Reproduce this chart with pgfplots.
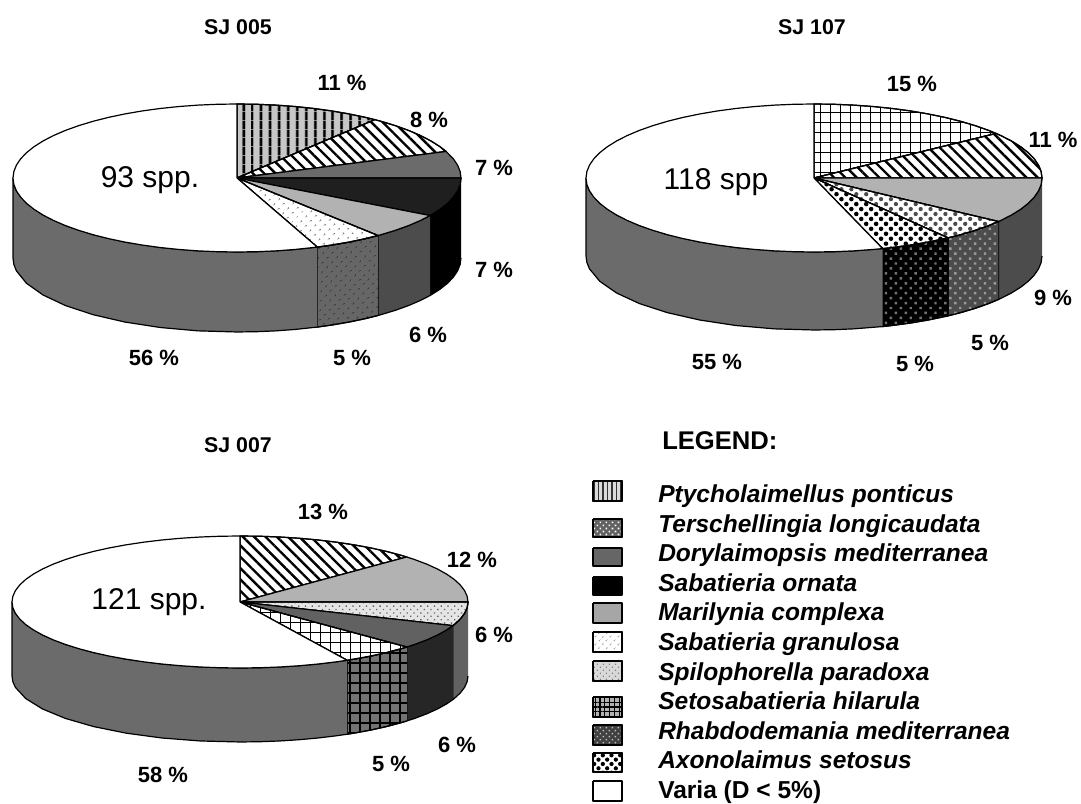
\documentclass[border=0pt]{standalone}
\usepackage{pgfplots}
\pgfplotsset{compat=1.18}
\usepackage{fontspec}
\setmainfont{Liberation Sans}
\usetikzlibrary{patterns.meta}
\tikzset{
 sVert/.style={preaction={fill=black!22},pattern={Lines[angle=90,distance=6.9pt,line width=2.2pt]},pattern color=black},
 sNW/.style={preaction={fill=white},pattern={Lines[angle=-45,distance=6pt,line width=1.8pt]},pattern color=black},
 sGrid/.style={preaction={fill=white},pattern={Hatch[angle=0,distance=7.5pt,line width=.75pt]},pattern color=black},
 sGridD/.style={preaction={fill=black!55},pattern={Hatch[angle=0,distance=7.5pt,line width=.9pt]},pattern color=black},
 sDotW/.style={preaction={fill=white},pattern={Dots[angle=45,distance=5.4pt,radius=.7pt]},pattern color=black!85},
 sDotG/.style={preaction={fill=black!60},pattern={Dots[angle=45,distance=5.4pt,radius=.7pt]},pattern color=black!90},
 sFine/.style={preaction={fill=black!10},pattern={Dots[angle=45,distance=3.6pt,radius=.7pt]},pattern color=black!60},
 sChkW/.style={preaction={fill=white},pattern={Dots[angle=45,distance=5.25pt,radius=1.6pt]},pattern color=black!70},
 sChkG/.style={preaction={fill=black!70},pattern={Dots[angle=45,distance=5.25pt,radius=1.3pt]},pattern color=black!40},
 sChkB/.style={preaction={fill=white},pattern={Dots[angle=45,distance=5.25pt,radius=1.7pt]},pattern color=black},
 sChkK/.style={preaction={fill=black},pattern={Dots[angle=45,distance=5.25pt,radius=1.3pt]},pattern color=black!55},
 lVert/.style={preaction={fill=black!15},pattern={Lines[angle=90,distance=3.4pt,line width=1.2pt]},pattern color=black!80},
 lTer/.style={preaction={fill=black!62},pattern={Dots[angle=45,distance=3.2pt,radius=.85pt]},pattern color=white},
 lGran/.style={preaction={fill=white},pattern={Dots[angle=45,distance=4pt,radius=.6pt]},pattern color=black!50},
 lSpi/.style={preaction={fill=black!15},pattern={Dots[angle=45,distance=3.2pt,radius=.6pt]},pattern color=black!50},
 lSet/.style={preaction={fill=black!30},pattern={Hatch[angle=0,distance=3.6pt,line width=.8pt]},pattern color=black},
 lRha/.style={preaction={fill=black!75},pattern={Dots[angle=45,distance=3.2pt,radius=.8pt]},pattern color=black!25},
 lAxo/.style={preaction={fill=white},pattern={Dots[angle=45,distance=4.6pt,radius=1.6pt]},pattern color=black},
}
\pgfplotsset{
 pie/.style={scale only axis,hide axis,clip=false,xmin=-1,xmax=1,ymin=-1,ymax=1,anchor=center,no markers},
 every axis plot/.append style={draw=black,line width=.9pt,line join=round},
}
\newcommand\wall[3]{\addplot[#1] table[x=x,y expr={\thisrow{s}-#2*\thisrow{z}},row sep=\\]{x s z\\#3};}
\begin{document}
\begin{tikzpicture}
\path[use as bounding box] (0,0) rectangle (810.75pt,602.25pt);
% ---------- SJ 005
\begin{axis}[pie,at={(177.75pt,468.75pt)},width=336pt,height=111pt]
\wall{fill=black}{1.081}{1 0 0\\.9962 -.0872 0\\.9848 -.1736 0\\.9659 -.2588 0\\.9397 -.3420 0\\.9063 -.4226 0\\.8660 -.5 0\\.8616 -.5075 0\\.8616 -.5075 1\\.8660 -.5 1\\.9063 -.4226 1\\.9397 -.3420 1\\.9659 -.2588 1\\.9848 -.1736 1\\.9962 -.0872 1\\1 0 1\\}
\wall{fill=black!70}{1.081}{.8616 -.5075 0\\.8192 -.5736 0\\.7660 -.6428 0\\.7071 -.7071 0\\.6428 -.7660 0\\.6293 -.7771 0\\.6293 -.7771 1\\.6428 -.7660 1\\.7071 -.7071 1\\.7660 -.6428 1\\.8192 -.5736 1\\.8616 -.5075 1\\}
\wall{sDotG}{1.081}{.6293 -.7771 0\\.5736 -.8192 0\\.5 -.8660 0\\.4226 -.9063 0\\.3584 -.9336 0\\.3584 -.9336 1\\.4226 -.9063 1\\.5 -.8660 1\\.5736 -.8192 1\\.6293 -.7771 1\\}
\wall{fill=black!58}{1.081}{.3584 -.9336 0\\.2588 -.9659 0\\.1736 -.9848 0\\.0872 -.9962 0\\0 -1 0\\-.1736 -.9848 0\\-.3420 -.9397 0\\-.5 -.8660 0\\-.6428 -.7660 0\\-.7660 -.6428 0\\-.8660 -.5 0\\-.9397 -.3420 0\\-.9848 -.1736 0\\-.9962 -.0872 0\\-1 0 0\\-1 0 1\\-.9962 -.0872 1\\-.9848 -.1736 1\\-.9397 -.3420 1\\-.8660 -.5 1\\-.7660 -.6428 1\\-.6428 -.7660 1\\-.5 -.8660 1\\-.3420 -.9397 1\\-.1736 -.9848 1\\0 -1 1\\.0872 -.9962 1\\.1736 -.9848 1\\.2588 -.9659 1\\.3584 -.9336 1\\}
\addplot[sVert] coordinates {(0,0)(0,1)(.0872,.9962)(.1736,.9848)(.2588,.9659)(.3420,.9397)(.4226,.9063)(.5,.8660)(.5736,.8192)(.6157,.7880)(0,0)};
\addplot[sNW] coordinates {(0,0)(.6157,.7880)(.6428,.7660)(.7071,.7071)(.7660,.6428)(.8192,.5736)(.8660,.5)(.9063,.4226)(.9336,.3584)(0,0)};
\addplot[fill=black!58] coordinates {(0,0)(.9336,.3584)(.9659,.2588)(.9848,.1736)(.9962,.0872)(1,0)(0,0)};
\addplot[fill=black!88] coordinates {(0,0)(1,0)(.9962,-.0872)(.9848,-.1736)(.9659,-.2588)(.9397,-.3420)(.9063,-.4226)(.8660,-.5)(.8616,-.5075)(0,0)};
\addplot[fill=black!30] coordinates {(0,0)(.8616,-.5075)(.8192,-.5736)(.7660,-.6428)(.7071,-.7071)(.6428,-.7660)(.6293,-.7771)(0,0)};
\addplot[sDotW] coordinates {(0,0)(.6293,-.7771)(.5736,-.8192)(.5,-.8660)(.4226,-.9063)(.3584,-.9336)(0,0)};
\addplot[fill=white] coordinates {(0,0)(.3584,-.9336)(.2588,-.9659)(.1736,-.9848)(.0872,-.9962)(0,-1)(-.0872,-.9962)(-.1736,-.9848)(-.2588,-.9659)(-.3420,-.9397)(-.4226,-.9063)(-.5,-.8660)(-.5736,-.8192)(-.6428,-.7660)(-.7071,-.7071)(-.7660,-.6428)(-.8192,-.5736)(-.8660,-.5)(-.9063,-.4226)(-.9397,-.3420)(-.9659,-.2588)(-.9848,-.1736)(-.9962,-.0872)(-1,0)(-.9962,.0872)(-.9848,.1736)(-.9659,.2588)(-.9397,.3420)(-.9063,.4226)(-.8660,.5)(-.8192,.5736)(-.7660,.6428)(-.7071,.7071)(-.6428,.7660)(-.5736,.8192)(-.5,.8660)(-.4226,.9063)(-.3420,.9397)(-.2588,.9659)(-.1736,.9848)(-.0872,.9962)(0,1)(0,0)};
\end{axis}
% ---------- SJ 107
\begin{axis}[pie,at={(610.5pt,468.75pt)},width=342pt,height=111pt]
\wall{fill=black!70}{1.054}{1 0 0\\.9962 -.0872 0\\.9848 -.1736 0\\.9659 -.2588 0\\.9397 -.3420 0\\.9063 -.4226 0\\.8660 -.5 0\\.8192 -.5736 0\\.8090 -.5878 0\\.8090 -.5878 1\\.8192 -.5736 1\\.8660 -.5 1\\.9063 -.4226 1\\.9397 -.3420 1\\.9659 -.2588 1\\.9848 -.1736 1\\.9962 -.0872 1\\1 0 1\\}
\wall{sChkG}{1.054}{.8090 -.5878 0\\.7660 -.6428 0\\.7071 -.7071 0\\.6428 -.7660 0\\.5878 -.8090 0\\.5878 -.8090 1\\.6428 -.7660 1\\.7071 -.7071 1\\.7660 -.6428 1\\.8090 -.5878 1\\}
\wall{sChkK}{1.054}{.5878 -.8090 0\\.5 -.8660 0\\.4226 -.9063 0\\.3420 -.9397 0\\.3007 -.9537 0\\.3007 -.9537 1\\.3420 -.9397 1\\.4226 -.9063 1\\.5 -.8660 1\\.5878 -.8090 1\\}
\wall{fill=black!58}{1.054}{.3007 -.9537 0\\.1736 -.9848 0\\.0872 -.9962 0\\0 -1 0\\-.1736 -.9848 0\\-.3420 -.9397 0\\-.5 -.8660 0\\-.6428 -.7660 0\\-.7660 -.6428 0\\-.8660 -.5 0\\-.9397 -.3420 0\\-.9848 -.1736 0\\-.9962 -.0872 0\\-1 0 0\\-1 0 1\\-.9962 -.0872 1\\-.9848 -.1736 1\\-.9397 -.3420 1\\-.8660 -.5 1\\-.7660 -.6428 1\\-.6428 -.7660 1\\-.5 -.8660 1\\-.3420 -.9397 1\\-.1736 -.9848 1\\0 -1 1\\.0872 -.9962 1\\.1736 -.9848 1\\.3007 -.9537 1\\}
\addplot[sGrid] coordinates {(0,0)(0,1)(.0872,.9962)(.1736,.9848)(.2588,.9659)(.3420,.9397)(.4226,.9063)(.5,.8660)(.5736,.8192)(.6428,.7660)(.7071,.7071)(.7660,.6428)(.7986,.6018)(0,0)};
\addplot[sNW] coordinates {(0,0)(.7986,.6018)(.8192,.5736)(.8660,.5)(.9063,.4226)(.9397,.3420)(.9659,.2588)(.9848,.1736)(.9962,.0872)(1,0)(0,0)};
\addplot[fill=black!30] coordinates {(0,0)(1,0)(.9962,-.0872)(.9848,-.1736)(.9659,-.2588)(.9397,-.3420)(.9063,-.4226)(.8660,-.5)(.8192,-.5736)(.8090,-.5878)(0,0)};
\addplot[sChkW] coordinates {(0,0)(.8090,-.5878)(.7660,-.6428)(.7071,-.7071)(.6428,-.7660)(.5878,-.8090)(0,0)};
\addplot[sChkB] coordinates {(0,0)(.5878,-.8090)(.5 ,-.8660)(.4226,-.9063)(.3420,-.9397)(.3007,-.9537)(0,0)};
\addplot[fill=white] coordinates {(0,0)(.3007,-.9537)(.2588,-.9659)(.1736,-.9848)(.0872,-.9962)(0,-1)(-.0872,-.9962)(-.1736,-.9848)(-.2588,-.9659)(-.3420,-.9397)(-.4226,-.9063)(-.5,-.8660)(-.5736,-.8192)(-.6428,-.7660)(-.7071,-.7071)(-.7660,-.6428)(-.8192,-.5736)(-.8660,-.5)(-.9063,-.4226)(-.9397,-.3420)(-.9659,-.2588)(-.9848,-.1736)(-.9962,-.0872)(-1,0)(-.9962,.0872)(-.9848,.1736)(-.9659,.2588)(-.9397,.3420)(-.9063,.4226)(-.8660,.5)(-.8192,.5736)(-.7660,.6428)(-.7071,.7071)(-.6428,.7660)(-.5736,.8192)(-.5,.8660)(-.4226,.9063)(-.3420,.9397)(-.2588,.9659)(-.1736,.9848)(-.0872,.9962)(0,1)(0,0)};
\end{axis}
% ---------- SJ 007
\begin{axis}[pie,at={(180pt,150.75pt)},width=342pt,height=99pt]
\wall{fill=black!62}{1.121}{1 0 0\\.9962 -.0872 0\\.9848 -.1736 0\\.9659 -.2588 0\\.9397 -.3420 0\\.9336 -.3584 0\\.9336 -.3584 1\\.9397 -.3420 1\\.9659 -.2588 1\\.9848 -.1736 1\\.9962 -.0872 1\\1 0 1\\}
\wall{fill=black!85}{1.121}{.9336 -.3584 0\\.9063 -.4226 0\\.8660 -.5 0\\.8192 -.5736 0\\.7660 -.6428 0\\.7314 -.6820 0\\.7314 -.6820 1\\.7660 -.6428 1\\.8192 -.5736 1\\.8660 -.5 1\\.9063 -.4226 1\\.9336 -.3584 1\\}
\wall{sGridD}{1.121}{.7314 -.6820 0\\.7071 -.7071 0\\.6428 -.7660 0\\.5736 -.8192 0\\.5 -.8660 0\\.4695 -.8829 0\\.4695 -.8829 1\\.5 -.8660 1\\.5736 -.8192 1\\.6428 -.7660 1\\.7071 -.7071 1\\.7314 -.6820 1\\}
\wall{fill=black!58}{1.121}{.4695 -.8829 0\\.4226 -.9063 0\\.3420 -.9397 0\\.2588 -.9659 0\\.1736 -.9848 0\\.0872 -.9962 0\\0 -1 0\\-.1736 -.9848 0\\-.3420 -.9397 0\\-.5 -.8660 0\\-.6428 -.7660 0\\-.7660 -.6428 0\\-.8660 -.5 0\\-.9397 -.3420 0\\-.9848 -.1736 0\\-.9962 -.0872 0\\-1 0 0\\-1 0 1\\-.9962 -.0872 1\\-.9848 -.1736 1\\-.9397 -.3420 1\\-.8660 -.5 1\\-.7660 -.6428 1\\-.6428 -.7660 1\\-.5 -.8660 1\\-.3420 -.9397 1\\-.1736 -.9848 1\\0 -1 1\\.0872 -.9962 1\\.1736 -.9848 1\\.2588 -.9659 1\\.3420 -.9397 1\\.4226 -.9063 1\\.4695 -.8829 1\\}
\addplot[sNW] coordinates {(0,0)(0,1)(.0872,.9962)(.1736,.9848)(.2588,.9659)(.3420,.9397)(.4226,.9063)(.5,.8660)(.5736,.8192)(.6428,.7660)(.7071,.7071)(.7314,.6820)(0,0)};
\addplot[fill=black!30] coordinates {(0,0)(.7314,.6820)(.7660,.6428)(.8192,.5736)(.8660,.5)(.9063,.4226)(.9397,.3420)(.9659,.2588)(.9848,.1736)(.9962,.0872)(1,0)(0,0)};
\addplot[sFine] coordinates {(0,0)(1,0)(.9962,-.0872)(.9848,-.1736)(.9659,-.2588)(.9397,-.3420)(.9336,-.3584)(0,0)};
\addplot[fill=black!62] coordinates {(0,0)(.9336,-.3584)(.9063,-.4226)(.8660,-.5)(.8192,-.5736)(.7660,-.6428)(.7314,-.6820)(0,0)};
\addplot[sGrid] coordinates {(0,0)(.7314,-.6820)(.7071,-.7071)(.6428,-.7660)(.5736,-.8192)(.5,-.8660)(.4695,-.8829)(0,0)};
\addplot[fill=white] coordinates {(0,0)(.4695,-.8829)(.4226,-.9063)(.3420,-.9397)(.2588,-.9659)(.1736,-.9848)(.0872,-.9962)(0,-1)(-.0872,-.9962)(-.1736,-.9848)(-.2588,-.9659)(-.3420,-.9397)(-.4226,-.9063)(-.5,-.8660)(-.5736,-.8192)(-.6428,-.7660)(-.7071,-.7071)(-.7660,-.6428)(-.8192,-.5736)(-.8660,-.5)(-.9063,-.4226)(-.9397,-.3420)(-.9659,-.2588)(-.9848,-.1736)(-.9962,-.0872)(-1,0)(-.9962,.0872)(-.9848,.1736)(-.9659,.2588)(-.9397,.3420)(-.9063,.4226)(-.8660,.5)(-.8192,.5736)(-.7660,.6428)(-.7071,.7071)(-.6428,.7660)(-.5736,.8192)(-.5,.8660)(-.4226,.9063)(-.3420,.9397)(-.2588,.9659)(-.1736,.9848)(-.0872,.9962)(0,1)(0,0)};
\end{axis}
% ---------- labels and legend, in pixel coordinates
\begin{axis}[scale only axis,hide axis,clip=false,at={(0pt,0pt)},anchor=south west,width=810.75pt,height=602.25pt,xmin=0,xmax=1081,ymin=0,ymax=803,y dir=reverse,no markers,
 every axis plot/.append style={line width=1.1pt}]
\addplot[lVert] coordinates {(593,481)(622,481)(622,501)(593,501)(593,481)};
\addplot[lTer] coordinates {(593,519)(622,519)(622,537)(593,537)(593,519)};
\addplot[fill=black!60] coordinates {(593,548)(622,548)(622,566)(593,566)(593,548)};
\addplot[fill=black] coordinates {(593,577)(622,577)(622,595)(593,595)(593,577)};
\addplot[fill=black!35] coordinates {(593,603)(622,603)(622,623)(593,623)(593,603)};
\addplot[lGran] coordinates {(593,632)(622,632)(622,652)(593,652)(593,632)};
\addplot[lSpi] coordinates {(593,661)(622,661)(622,681)(593,681)(593,661)};
\addplot[lSet] coordinates {(593,697)(622,697)(622,717)(593,717)(593,697)};
\addplot[lRha] coordinates {(593,725)(622,725)(622,745)(593,745)(593,725)};
\addplot[lAxo] coordinates {(593,753)(622,753)(622,772)(593,772)(593,753)};
\addplot[fill=white] coordinates {(593,781)(622,781)(622,801)(593,801)(593,781)};
\tikzset{lab/.style={font=\fontsize{16.5pt}{18pt}\selectfont\bfseries,inner sep=0pt},
 ttl/.style={font=\fontsize{16pt}{18pt}\selectfont\bfseries,inner sep=0pt},
 spp/.style={font=\fontsize{22.5pt}{24pt}\selectfont,inner sep=0pt},
 leg/.style={font=\fontsize{18.4pt}{20pt}\selectfont\bfseries\itshape,inner sep=0pt,anchor=base west}}
\node[ttl] at (axis cs:238,27) {SJ 005};
\node[lab] at (axis cs:342,83) {11 \%};
\node[lab] at (axis cs:429,120) {8 \%};
\node[lab] at (axis cs:494,168) {7 \%};
\node[lab] at (axis cs:494,270) {7 \%};
\node[lab] at (axis cs:428,335) {6 \%};
\node[lab] at (axis cs:352,358) {5 \%};
\node[lab] at (axis cs:154,358) {56 \%};
\node[spp] at (axis cs:150,180) {93 spp.};
\node[ttl] at (axis cs:812,27) {SJ 107};
\node[lab] at (axis cs:912,84) {15 \%};
\node[lab] at (axis cs:1053,140) {11 \%};
\node[lab] at (axis cs:1053,298) {9 \%};
\node[lab] at (axis cs:990,343) {5 \%};
\node[lab] at (axis cs:915,364) {5 \%};
\node[lab] at (axis cs:717,362) {55 \%};
\node[spp] at (axis cs:716,182) {118 spp};
\node[ttl] at (axis cs:238,445) {SJ 007};
\node[lab] at (axis cs:323,512) {13 \%};
\node[lab] at (axis cs:472,560) {12 \%};
\node[lab] at (axis cs:494,635) {6 \%};
\node[lab] at (axis cs:457,745) {6 \%};
\node[lab] at (axis cs:391,764) {5 \%};
\node[lab] at (axis cs:163,775) {58 \%};
\node[spp] at (axis cs:149,602) {121 spp.};
\node[font=\fontsize{19.2pt}{21pt}\selectfont\bfseries,inner sep=0pt,anchor=west] at (axis cs:662,441) {LEGEND:};
\node[leg] at (axis cs:658,502) {Ptycholaimellus ponticus};
\node[leg] at (axis cs:658,532) {Terschellingia longicaudata};
\node[leg] at (axis cs:658,561) {Dorylaimopsis mediterranea};
\node[leg] at (axis cs:658,591) {Sabatieria ornata};
\node[leg] at (axis cs:658,620) {Marilynia complexa};
\node[leg] at (axis cs:658,650) {Sabatieria granulosa};
\node[leg] at (axis cs:658,680) {Spilophorella paradoxa};
\node[leg] at (axis cs:658,709) {Setosabatieria hilarula};
\node[leg] at (axis cs:658,739) {Rhabdodemania mediterranea};
\node[leg] at (axis cs:658,768) {Axonolaimus setosus};
\node[font=\fontsize{18.4pt}{20pt}\selectfont\bfseries,inner sep=0pt,anchor=base west] at (axis cs:658,798) {Varia (D < 5\%)};
\end{axis}
\end{tikzpicture}
\end{document}
